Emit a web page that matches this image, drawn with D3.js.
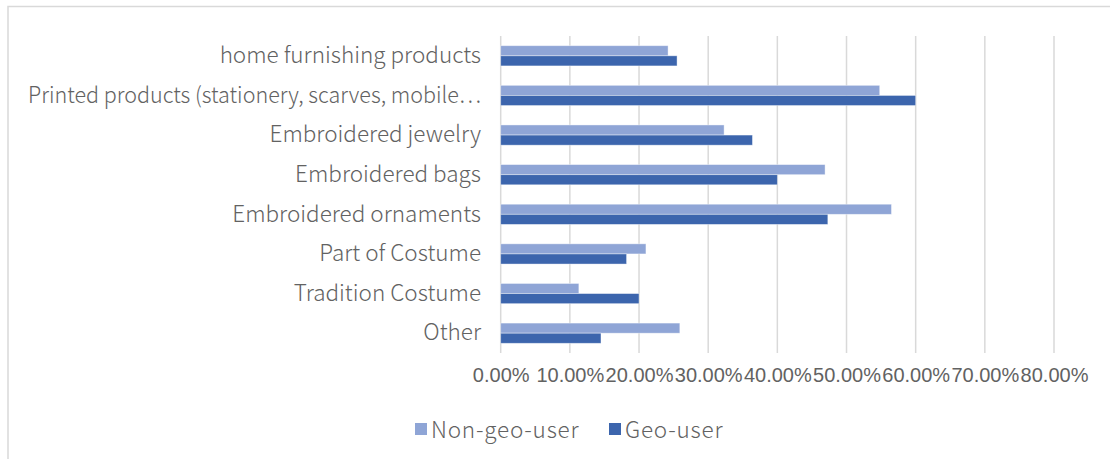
<!DOCTYPE html>
<html>
<head>
<meta charset="utf-8">
<script src="https://cdn.jsdelivr.net/npm/d3@7"></script>
<style>
  html, body { margin: 0; padding: 0; background: #fff; }
  svg { display: block; }
</style>
</head>
<body>
<svg id="chart" width="1110" height="459"></svg>
<script>
const categories = [
  "home furnishing products",
  "Printed products (stationery, scarves, mobile\u22EF",
  "Embroidered jewelry",
  "Embroidered bags",
  "Embroidered ornaments",
  "Part of Costume",
  "Tradition Costume",
  "Other"
];
const seriesNames = ["Non-geo-user", "Geo-user"];
const nonGeoUser = [0.242, 0.548, 0.323, 0.469, 0.565, 0.210, 0.113, 0.259];
const geoUser    = [0.255, 0.600, 0.364, 0.400, 0.473, 0.182, 0.200, 0.145];
const tickValues = [0, 0.1, 0.2, 0.3, 0.4, 0.5, 0.6, 0.7, 0.8];
const colors = ["#8FA5D6", "#3C65AD"];

const svg = d3.select("#chart");
const labelFont = "'Noto Sans CJK SC', 'Open Sans', sans-serif";
const textColor = "#626262";

// chart frame
svg.append("path")
  .attr("d", "M8,1000 L8,6.5 L1120,6.5")
  .attr("fill", "none").attr("stroke", "#d9d9d9").attr("stroke-width", 1.5);

const x = d3.scaleLinear().domain([0, 0.8]).range([500.7, 1054]);
const y = d3.scaleBand().domain(categories).range([36, 353])
  .paddingInner(0.49).paddingOuter(0.245);
const ySub = d3.scaleBand().domain(seriesNames).range([0, y.bandwidth()]);

// gridlines
svg.append("g").selectAll("line").data(tickValues).join("line")
  .attr("x1", d => x(d)).attr("x2", d => x(d))
  .attr("y1", 36).attr("y2", 353)
  .attr("stroke", "#d9d9d9").attr("stroke-width", 1.5);

// bars
const series = [nonGeoUser, geoUser];
series.forEach((vals, si) => {
  svg.append("g").selectAll("rect").data(categories).join("rect")
    .attr("x", x(0))
    .attr("y", (c) => y(c) + ySub(seriesNames[si]))
    .attr("width", (c, i) => x(vals[i]) - x(0))
    .attr("height", ySub.bandwidth())
    .attr("fill", colors[si])
    .attr("stroke", "#ffffff").attr("stroke-opacity", 0.5).attr("stroke-width", 0.8);
});

// x axis labels
const xAxis = d3.axisBottom(x).tickValues(tickValues)
  .tickFormat(d3.format(".2%")).tickSize(0).tickPadding(0);
const gx = svg.append("g").attr("transform", "translate(0,368)").call(xAxis);
gx.select(".domain").remove();
gx.selectAll("text")
  .attr("font-family", "'Liberation Sans', Arial, sans-serif")
  .attr("font-size", 20).attr("fill", textColor);

// y axis labels
const yAxis = d3.axisLeft(y).tickSize(0).tickPadding(0);
const gy = svg.append("g").attr("transform", "translate(481,0)").call(yAxis);
gy.select(".domain").remove();
gy.selectAll("text")
  .attr("font-family", labelFont).attr("font-weight", 300)
  .attr("font-size", 22.5).attr("fill", textColor);
// the truncated long label is set narrower in the original
gy.selectAll("text").filter(d => d === categories[1])
  .attr("textLength", 453).attr("lengthAdjust", "spacingAndGlyphs");

// legend
const legend = svg.append("g");
const legX = [415, 609];
seriesNames.forEach((name, i) => {
  legend.append("rect").attr("x", legX[i]).attr("y", 423)
    .attr("width", 12).attr("height", 12).attr("fill", colors[i]);
  legend.append("text").attr("x", legX[i] + 16).attr("y", 430)
    .attr("dy", "0.35em")
    .attr("font-family", labelFont).attr("font-weight", 300)
    .attr("font-size", 22.5).attr("letter-spacing", 0.8)
    .attr("fill", textColor).text(name);
});
</script>
</body>
</html>
